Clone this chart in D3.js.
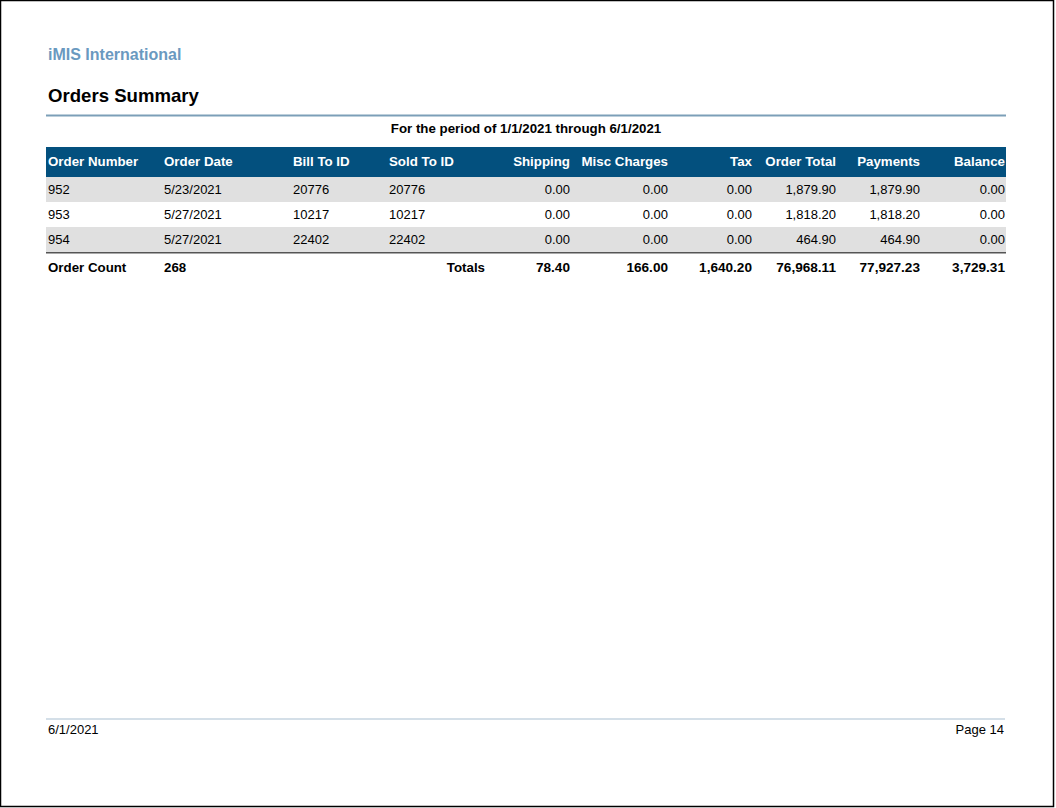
<!DOCTYPE html>
<html><head><meta charset="utf-8">
<script src="https://cdn.jsdelivr.net/npm/d3@7"></script>
<style>
html,body{margin:0;padding:0;background:#fff;}
svg{display:block;font-family:"Liberation Sans",Arial,sans-serif;}
</style></head>
<body><svg id="c" width="1056" height="808"></svg>
<script>
const columns = ["Order Number","Order Date","Bill To ID","Sold To ID","Shipping","Misc Charges","Tax","Order Total","Payments","Balance"];
const orderNumbers = ["952","953","954"];
const orderDates = ["5/23/2021","5/27/2021","5/27/2021"];
const billToIds = ["20776","10217","22402"];
const soldToIds = ["20776","10217","22402"];
const shipping = [0,0,0];
const miscCharges = [0,0,0];
const tax = [0,0,0];
const orderTotal = [1879.90,1818.20,464.90];
const payments = [1879.90,1818.20,464.90];
const balance = [0,0,0];
const totals = [78.40,166.00,1640.20,76968.11,77927.23,3729.31];
const orderCount = "268";
const companyName = "iMIS International";
const reportTitle = "Orders Summary";
const periodText = "For the period of 1/1/2021 through 6/1/2021";
const footerDate = "6/1/2021";
const pageLabel = "Page 14";

const svg = d3.select("#c");
const fmt = d3.format(",.2f");
const left = 46, right = 1006;

// page border
svg.append("rect").attr("x",0.5).attr("y",0.5).attr("width",1053).attr("height",806)
  .attr("fill","none").attr("stroke","#000").attr("stroke-width",1.5);

svg.append("text").attr("x",48).attr("y",60).attr("font-size",16).attr("font-weight","bold")
  .attr("fill","#6a99bf").text(companyName);
svg.append("text").attr("x",48).attr("y",102).attr("font-size",18.6).attr("font-weight","bold")
  .attr("fill","#000").text(reportTitle);
svg.append("rect").attr("x",left).attr("y",114.5).attr("width",right-left).attr("height",2).attr("fill","#7c9fb8");
svg.append("text").attr("x",526).attr("y",133).attr("text-anchor","middle").attr("font-size",13.3)
  .attr("font-weight","bold").attr("fill","#000").text(periodText);

// column positions (x anchor) and alignment
const colX = d3.scaleOrdinal().domain(columns).range([48,164,293,389,570,668,752,836,920,1005]);
const colAnchor = c => columns.indexOf(c) < 4 ? "start" : "end";

const headTop = 147, headH = 30, rowH = 25;
svg.append("rect").attr("x",left).attr("y",headTop).attr("width",right-left).attr("height",headH).attr("fill","#03507e");
svg.selectAll("text.head").data(columns).join("text").attr("class","head")
  .attr("x",d=>colX(d)).attr("y",headTop+19).attr("text-anchor",colAnchor)
  .attr("font-size",13.3).attr("font-weight","bold").attr("fill","#fff").text(d=>d);

const rows = orderNumbers.map((n,i)=>[n,orderDates[i],billToIds[i],soldToIds[i],
  fmt(shipping[i]),fmt(miscCharges[i]),fmt(tax[i]),fmt(orderTotal[i]),fmt(payments[i]),fmt(balance[i])]);

const y = d3.scaleBand().domain(d3.range(rows.length)).range([headTop+headH, headTop+headH+rowH*rows.length]);
const g = svg.selectAll("g.row").data(rows).join("g").attr("class","row")
  .attr("transform",(d,i)=>`translate(0,${y(i)})`);
g.append("rect").attr("x",left).attr("width",right-left).attr("height",y.bandwidth())
  .attr("fill",(d,i)=>i%2===0?"#e0e0e0":"#fff");
g.selectAll("text").data(d=>d.map((v,j)=>({v,c:columns[j]}))).join("text")
  .attr("x",d=>colX(d.c)).attr("y",17).attr("text-anchor",d=>colAnchor(d.c))
  .attr("font-size",13).attr("fill","#000").text(d=>d.v);

const tableBottom = headTop+headH+rowH*rows.length;
svg.append("rect").attr("x",left).attr("y",tableBottom).attr("width",right-left).attr("height",1.5).attr("fill","#555");

const ty = tableBottom + 20;
svg.append("text").attr("x",colX("Order Number")).attr("y",ty).attr("font-size",13.3).attr("font-weight","bold").text("Order Count");
svg.append("text").attr("x",colX("Order Date")).attr("y",ty).attr("font-size",13.3).attr("font-weight","bold").text(orderCount);
svg.append("text").attr("x",485).attr("y",ty).attr("text-anchor","end").attr("font-size",13.3).attr("font-weight","bold").text("Totals");
svg.selectAll("text.tot").data(totals).join("text").attr("class","tot")
  .attr("x",(d,i)=>colX(columns[i+4])).attr("y",ty).attr("text-anchor","end")
  .attr("font-size",13.6).attr("font-weight","bold").text(d=>fmt(d));

// footer
svg.append("rect").attr("x",left).attr("y",718.5).attr("width",right-left-1).attr("height",1).attr("fill","#a9bfd2");
svg.append("text").attr("x",48).attr("y",734).attr("font-size",13).attr("fill","#000").text(footerDate);
svg.append("text").attr("x",1004).attr("y",734).attr("text-anchor","end").attr("font-size",13).attr("fill","#000").text(pageLabel);
</script></body></html>
